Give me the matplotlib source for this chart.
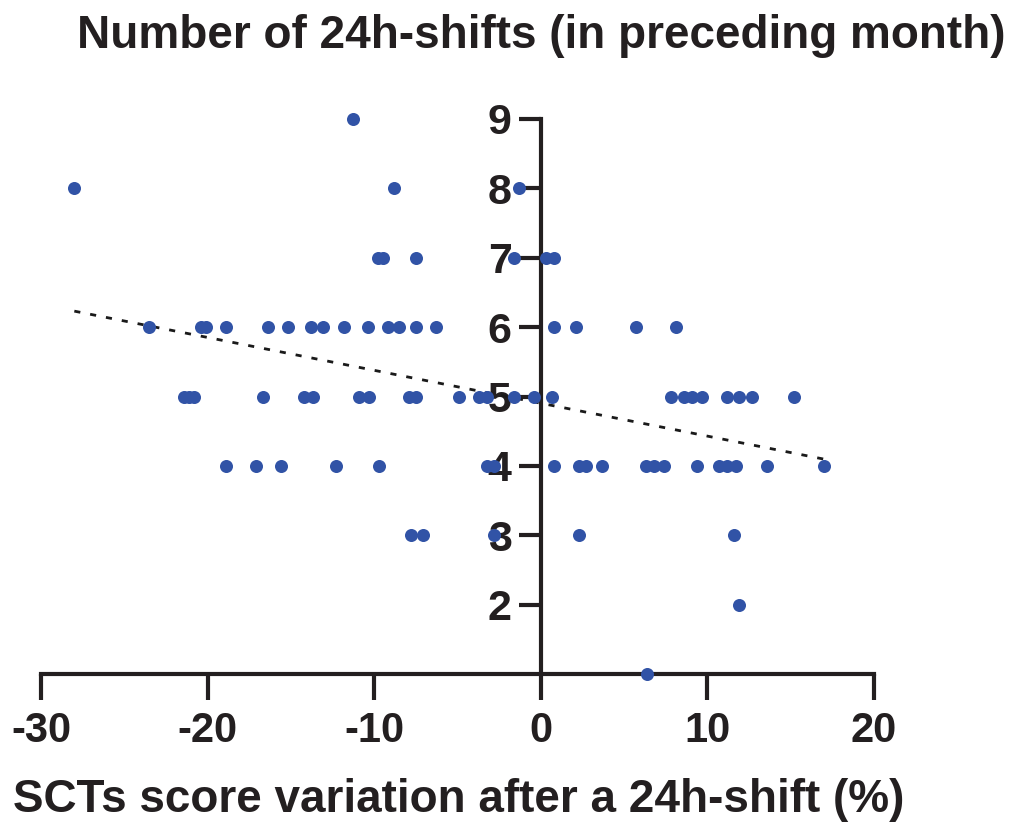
import numpy as np
import matplotlib
matplotlib.use("Agg")
import matplotlib.pyplot as plt

plt.rcParams['font.family'] = ['Liberation Sans', 'DejaVu Sans']
plt.rcParams['font.weight'] = 'bold'
plt.rcParams['axes.unicode_minus'] = False

# SCTs score variation (%) grouped by number of 24h-shifts
shifts_9 = [-11.3]
shifts_8 = [-28.0, -8.8, -1.3]
shifts_7 = [-9.8, -9.5, -7.5, -1.6, 0.3, 0.8]
shifts_6 = [-23.5, -20.4, -20.1, -18.9, -16.4, -15.2, -13.8, -13.1, -11.8, -10.4,
            -9.2, -8.5, -7.5, -6.3, 0.8, 2.1, 5.7, 8.1]
shifts_5 = [-21.4, -21.1, -20.8, -16.7, -14.2, -13.7, -10.9, -10.3, -7.9, -7.5,
            -4.9, -3.7, -3.2, -1.6, -0.4, 0.7, 7.8, 8.6, 9.1, 9.7, 11.2, 11.9, 12.7, 15.2]
shifts_4 = [-18.9, -17.1, -15.6, -12.3, -9.7, -3.2, -2.8, 0.8, 2.3, 2.7, 3.7,
            6.3, 6.8, 7.4, 9.4, 10.7, 11.2, 11.7, 13.6, 17.0]
shifts_3 = [-7.8, -7.1, -2.8, 2.3, 11.6]
shifts_2 = [11.9]
shifts_1 = [6.4]

groups = {9: shifts_9, 8: shifts_8, 7: shifts_7, 6: shifts_6, 5: shifts_5,
          4: shifts_4, 3: shifts_3, 2: shifts_2, 1: shifts_1}

x = np.concatenate([np.array(v) for v in groups.values()])
y = np.concatenate([np.full(len(v), k) for k, v in groups.items()])

fig = plt.figure(figsize=(10.17, 8.23), dpi=100)
ax = fig.add_axes([41 / 1017, 1 - 674 / 823, 833 / 1017, 555 / 823])

ax.scatter(x, y, s=88, color='#3153a6', zorder=3, clip_on=False, linewidths=0)

# linear fit
slope, intercept = np.polyfit(x, y, 1)
xf = np.array([x.min(), x.max()])
ax.plot(xf, slope * xf + intercept, color='#1a1a1a', lw=2.0,
        linestyle=(0, (2.2, 3.6)), zorder=2)

ax.set_xlim(-30, 20)
ax.set_ylim(1, 9)
ax.set_xticks([-30, -20, -10, 0, 10, 20])
ax.set_yticks([2, 3, 4, 5, 6, 7, 8, 9])

ax.spines['right'].set_visible(False)
ax.spines['top'].set_visible(False)
ax.spines['left'].set_position(('data', 0))
for sp in ['left', 'bottom']:
    ax.spines[sp].set_linewidth(3)
    ax.spines[sp].set_color('#231f20')
    ax.spines[sp].set_zorder(1)

ax.tick_params(axis='y', length=16, width=3, color='#231f20', pad=5,
               labelsize=31, labelcolor='#231f20')
ax.tick_params(axis='x', length=19, width=3, color='#231f20', pad=8,
               labelsize=30, labelcolor='#231f20')

fig.text(0.532, 0.956, "Number of 24h-shifts (in preceding month)",
         ha='center', va='center', fontsize=33, fontweight='bold', color='#231f20')
fig.text(0.451, 0.028, "SCTs score variation after a 24h-shift (%)",
         ha='center', va='center', fontsize=33, fontweight='bold', color='#231f20')

fig.savefig("out.png", dpi=100)
